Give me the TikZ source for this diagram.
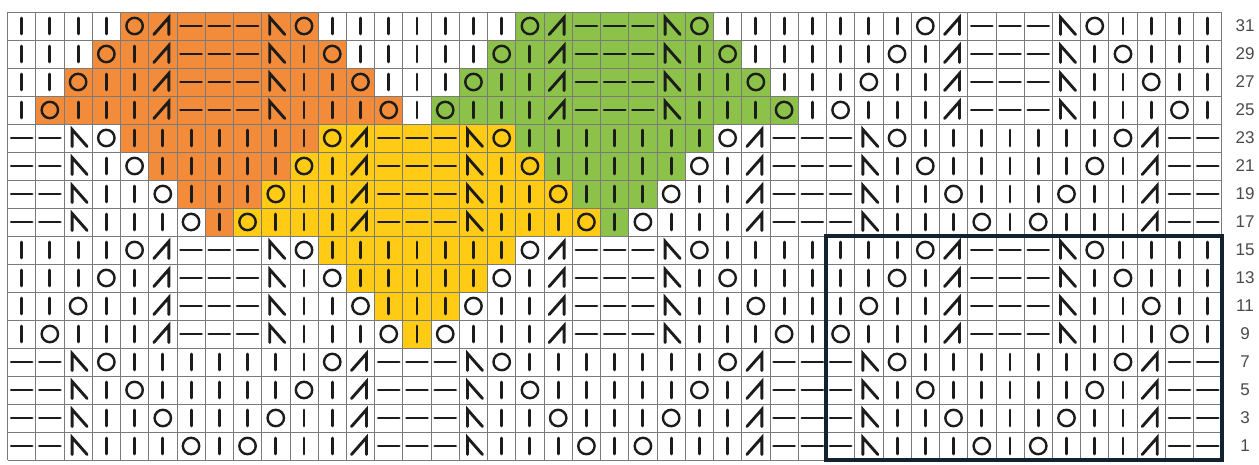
\documentclass[tikz,border=0pt]{standalone}
\usepackage{fontspec}
\setmainfont{Liberation Sans}
\definecolor{orng}{HTML}{F28C3A}
\definecolor{yell}{HTML}{FFCB14}
\definecolor{grn}{HTML}{8CC14A}
\definecolor{gridc}{HTML}{7A7A7A}
\definecolor{ink}{HTML}{1C1C1C}
\definecolor{navy}{HTML}{13222F}
\definecolor{lblc}{HTML}{4A4A4A}
\newcommand\cw{28.24}
\newcommand\ch{28}
\newcommand\gx{7.5}
\newcommand\gy{4}
\newcommand\band[4]{\fill[#1] ({\gx+(#3-1)*\cw},{\gy+(16-#2)*\ch}) rectangle ({\gx+#4*\cw},{\gy+(17-#2)*\ch});}
\expandafter\def\csname rl1\endcsname{D,D,A,V,V,V,O,V,O,V,V,V,B,D}
\expandafter\def\csname rl2\endcsname{D,D,A,V,V,O,V,V,V,O,V,V,B,D}
\expandafter\def\csname rl3\endcsname{D,D,A,V,O,V,V,V,V,V,O,V,B,D}
\expandafter\def\csname rl4\endcsname{D,D,A,O,V,V,V,V,V,V,V,O,B,D}
\expandafter\def\csname rl5\endcsname{V,O,V,V,V,B,D,D,D,A,V,V,V,O}
\expandafter\def\csname rl6\endcsname{V,V,O,V,V,B,D,D,D,A,V,V,O,V}
\expandafter\def\csname rl7\endcsname{V,V,V,O,V,B,D,D,D,A,V,O,V,V}
\expandafter\def\csname rl8\endcsname{V,V,V,V,O,B,D,D,D,A,O,V,V,V}
\newcommand\knV{\draw[stk] (\cx,\cy-8) -- (\cx,\cy+8);}
\newcommand\knD{\draw[stk] (\cx-10.5,\cy) -- (\cx+10.5,\cy);}
\newcommand\knO{\draw[stk,line width=2.4pt] (\cx,\cy) circle[radius=8.2];}
\newcommand\knA{\draw[stk,line join=miter] (\cx-6,\cy-8.5) -- (\cx-6,\cy+8.5) -- (\cx+9,\cy-8.5);}
\newcommand\knB{\draw[stk,line join=miter] (\cx-9,\cy-8.5) -- (\cx+6,\cy+8.5) -- (\cx+6,\cy-8.5);}
\begin{document}
\begin{tikzpicture}[x=1pt,y=1pt,
  stk/.style={draw=ink,line width=2.9pt,line cap=round},
  gridline/.style={draw=gridc,line width=0.8pt},
  lbl/.style={text=lblc,font=\fontsize{17}{17}\selectfont,anchor=center}]
\useasboundingbox (0,0) rectangle (1259,464);
\fill[white] (0,0) rectangle (1259,464);
% colour fields
\foreach \t/\a/\b in {1/5/11,2/4/12,3/3/13,4/2/14,5/5/11,6/6/10,7/7/9,8/8/8}{\band{orng}{\t}{\a}{\b}}
\foreach \t/\a/\b in {5/12/18,6/11/19,7/10/20,8/9/21,9/12/18,10/13/17,11/14/16,12/15/15}{\band{yell}{\t}{\a}{\b}}
\foreach \t/\a/\b in {1/19/25,2/18/26,3/17/27,4/16/28,5/19/25,6/20/24,7/21/23,8/22/22}{\band{grn}{\t}{\a}{\b}}
% grid
\foreach \c in {0,...,43}{\draw[gridline] ({\gx+\c*\cw},\gy) -- ({\gx+\c*\cw},{\gy+16*\ch});}
\foreach \r in {0,...,16}{\draw[gridline] (\gx,{\gy+\r*\ch}) -- ({\gx+43*\cw},{\gy+\r*\ch});}
% symbols
\foreach \rb in {1,...,16}{
  \pgfmathtruncatemacro\rr{mod(\rb-1,8)+1}
  \pgfmathsetmacro\cy{\gy+(\rb-0.5)*\ch}
  \edef\lst{\csname rl\rr\endcsname}
  \foreach \s [count=\i] in \lst {
    \foreach \k in {0,1,2,3}{
      \pgfmathtruncatemacro\col{\k*14+\i}
      \ifnum\col<44
        \pgfmathsetmacro\cx{\gx+(\col-0.5)*\cw}
        \csname kn\s\endcsname
      \fi
    }
  }
}
% repeat box
\draw[navy,line width=4pt] ({\gx+29*\cw},\gy) rectangle ({\gx+43*\cw},{\gy+8*\ch});
% row numbers
\foreach \rb in {1,...,16}{
  \pgfmathtruncatemacro\lab{2*\rb-1}
  \node[lbl] (L\rb) at (1245,{\gy+(\rb-0.5)*\ch}) {\lab};
}
\end{tikzpicture}
\end{document}
